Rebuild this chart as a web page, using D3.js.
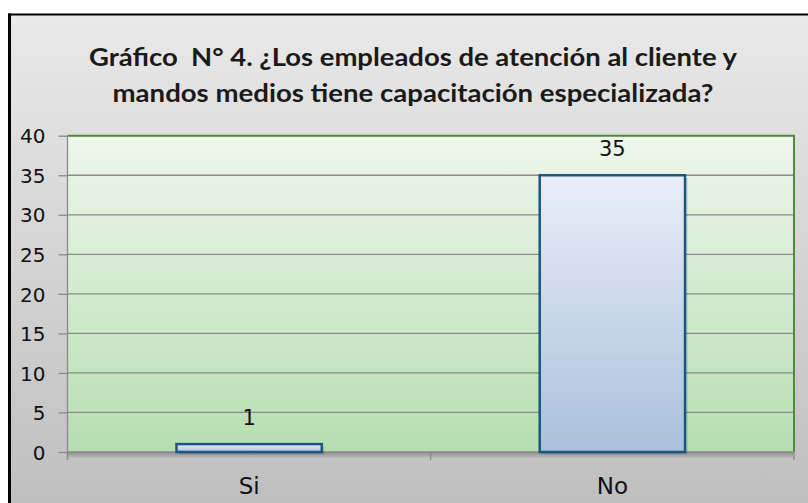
<!DOCTYPE html>
<html>
<head>
<meta charset="utf-8">
<script src="https://cdn.jsdelivr.net/npm/d3@7"></script>
<style>
  html, body { margin: 0; padding: 0; background: #ffffff; }
  svg { display: block; }
</style>
</head>
<body>
<svg id="chart" width="808" height="503"></svg>
<script>
const categories = ["Si", "No"];
const values = [1, 35];
const yTicks = [0, 5, 10, 15, 20, 25, 30, 35, 40];
const titleLines = [
  "Gráfico  N° 4. ¿Los empleados de atención al cliente y",
  "mandos medios tiene capacitación especializada?"
];

const svg = d3.select("#chart");
const W = 808, H = 503;
const plot = { left: 67.5, right: 794, top: 135.7, bottom: 452 };

const defs = svg.append("defs");
const bgGrad = defs.append("linearGradient").attr("id", "bgGrad")
  .attr("x1", 0).attr("y1", 0).attr("x2", 0).attr("y2", 1);
bgGrad.append("stop").attr("offset", "0%").attr("stop-color", "#e9e9e9");
bgGrad.append("stop").attr("offset", "100%").attr("stop-color", "#bfbfbf");

const plotGrad = defs.append("linearGradient").attr("id", "plotGrad")
  .attr("x1", 0).attr("y1", 0).attr("x2", 0).attr("y2", 1);
plotGrad.append("stop").attr("offset", "0%").attr("stop-color", "#eef7ec");
plotGrad.append("stop").attr("offset", "100%").attr("stop-color", "#b6ddb1");

const barGrad = defs.append("linearGradient").attr("id", "barGrad")
  .attr("x1", 0).attr("y1", 0).attr("x2", 0).attr("y2", 1);
barGrad.append("stop").attr("offset", "0%").attr("stop-color", "#e9eef8");
barGrad.append("stop").attr("offset", "100%").attr("stop-color", "#a9c0dc");

const shadowGrad = defs.append("linearGradient").attr("id", "shadowGrad")
  .attr("x1", 0).attr("y1", 0).attr("x2", 0).attr("y2", 1);
shadowGrad.append("stop").attr("offset", "0%").attr("stop-color", "#8a8a8a");
shadowGrad.append("stop").attr("offset", "100%").attr("stop-color", "#bfbfbf");

// chart background
svg.append("rect").attr("x", 9).attr("y", 14).attr("width", W - 9).attr("height", H - 14)
  .attr("fill", "url(#bgGrad)");
svg.append("line").attr("x1", 8).attr("x2", W).attr("y1", 14.5).attr("y2", 14.5)
  .attr("stroke", "#000").attr("stroke-width", 2.2);
svg.append("line").attr("x1", 9.5).attr("x2", 9.5).attr("y1", 13.5).attr("y2", H)
  .attr("stroke", "#000").attr("stroke-width", 3);

// title
const title = svg.append("g").attr("font-family", "Lato, 'Open Sans', sans-serif")
  .attr("font-weight", "bold").attr("font-size", 25.5).attr("fill", "#1a1a1a");
const titleSpecs = [{ y: 66, len: 648 }, { y: 102, len: 601 }];
titleLines.forEach((t, i) => {
  title.append("text").attr("x", 413).attr("y", titleSpecs[i].y)
    .attr("text-anchor", "middle")
    .attr("textLength", titleSpecs[i].len).attr("lengthAdjust", "spacingAndGlyphs")
    .text(t.replace(/  /g, " \u00a0"));
});

// scales
const y = d3.scaleLinear().domain([0, 40]).range([plot.bottom, plot.top]);
const x = d3.scaleBand().domain(categories).range([plot.left, plot.right])
  .paddingInner(0.6).paddingOuter(0.3);

// plot shadow
svg.append("rect").attr("x", plot.left).attr("y", plot.bottom)
  .attr("width", plot.right - plot.left).attr("height", 6)
  .attr("fill", "url(#shadowGrad)");

// plot area
svg.append("rect").attr("x", plot.left).attr("y", plot.top)
  .attr("width", plot.right - plot.left).attr("height", plot.bottom - plot.top)
  .attr("fill", "url(#plotGrad)");

// gridlines
svg.append("g").selectAll("line").data(yTicks.filter(d => d > 0 && d < 40)).join("line")
  .attr("x1", plot.left).attr("x2", plot.right)
  .attr("y1", d => y(d)).attr("y2", d => y(d))
  .attr("stroke", "#8a8a8a").attr("stroke-width", 1.3);

// green border top and right
svg.append("path")
  .attr("d", `M${plot.left},${plot.top}H${plot.right}V${plot.bottom}`)
  .attr("fill", "none").attr("stroke", "#4f8b3b").attr("stroke-width", 2);

// y axis
const yAxis = d3.axisLeft(y).tickValues(yTicks).tickSize(9).tickPadding(13);
const gy = svg.append("g").attr("transform", `translate(${plot.left},0)`).call(yAxis);
gy.select(".domain").remove();
gy.selectAll(".tick line").attr("stroke", "#8a8a8a").attr("stroke-width", 1.3);
gy.selectAll(".tick text").attr("font-family", "'DejaVu Sans', sans-serif")
  .attr("font-size", 20).attr("fill", "#111").attr("dy", "0.36em");
svg.append("line").attr("x1", plot.left).attr("x2", plot.left)
  .attr("y1", plot.top).attr("y2", plot.bottom + 8)
  .attr("stroke", "#8a8a8a").attr("stroke-width", 1.3);

// x axis
svg.append("line").attr("x1", plot.left).attr("x2", plot.right)
  .attr("y1", plot.bottom).attr("y2", plot.bottom)
  .attr("stroke", "#8a8a8a").attr("stroke-width", 1.3);
const bounds = [plot.left, plot.left + x.step(), plot.right];
svg.append("g").selectAll("line").data(bounds).join("line")
  .attr("x1", d => d).attr("x2", d => d)
  .attr("y1", plot.bottom).attr("y2", plot.bottom + 8)
  .attr("stroke", "#8a8a8a").attr("stroke-width", 1.3);
svg.append("g").selectAll("text").data(categories).join("text")
  .attr("x", d => x(d) + x.bandwidth() / 2).attr("y", 494)
  .attr("text-anchor", "middle")
  .attr("font-family", "'DejaVu Sans', sans-serif").attr("font-size", 23)
  .attr("fill", "#111").text(d => d);

// bars
const data = categories.map((c, i) => ({ c, v: values[i] }));
svg.append("g").selectAll("rect.shadow").data(data).join("rect")
  .attr("x", d => x(d.c) + 2.5).attr("y", d => y(d.v) + 2.5)
  .attr("width", x.bandwidth()).attr("height", d => y(0) - y(d.v))
  .attr("fill", "#000").attr("opacity", 0.12);
svg.append("g").selectAll("rect.bar").data(data).join("rect")
  .attr("x", d => x(d.c)).attr("y", d => y(d.v))
  .attr("width", x.bandwidth()).attr("height", d => y(0) - y(d.v))
  .attr("fill", "url(#barGrad)").attr("stroke", "#1d5680").attr("stroke-width", 2.5);

// data labels
svg.append("g").selectAll("text").data(data).join("text")
  .attr("x", d => x(d.c) + x.bandwidth() / 2).attr("y", d => y(d.v) - 19)
  .attr("text-anchor", "middle")
  .attr("font-family", "'DejaVu Sans', sans-serif").attr("font-size", 21)
  .attr("fill", "#111").text(d => d.v);
</script>
</body>
</html>
